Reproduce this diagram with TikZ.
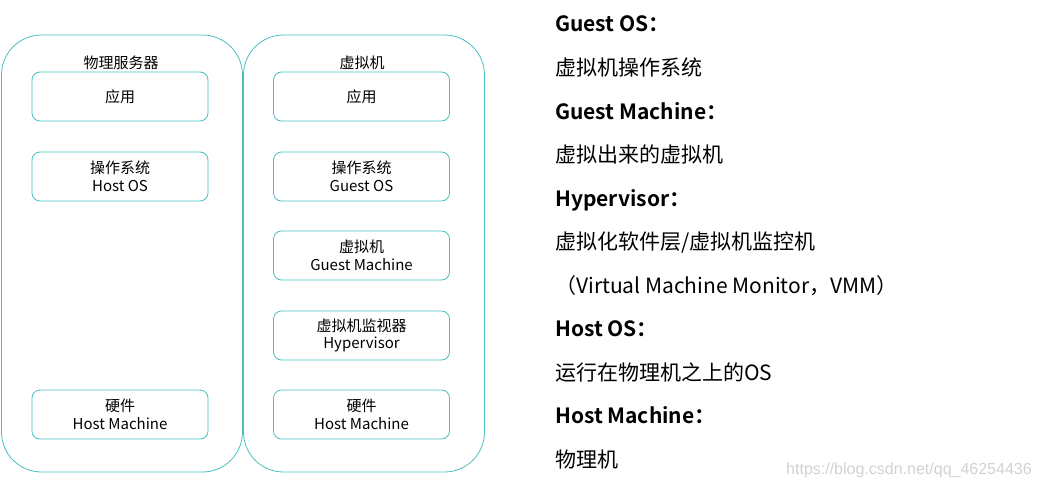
\documentclass[tikz,border=0pt]{standalone}
\usepackage{fontspec}
\setmainfont{Noto Sans CJK SC}[BoldFont={Noto Sans CJK SC Bold}]
\newfontfamily\markfont{Liberation Sans}
\usetikzlibrary{positioning}
\definecolor{lineteal}{RGB}{75,190,190}

\begin{document}
\begin{tikzpicture}[x=1pt,y=-1pt,
    outer/.style={draw=lineteal,line width=0.8pt,rounded corners=40pt,minimum width=241pt,minimum height=437pt,inner sep=0pt},
    layer/.style={draw=lineteal,line width=0.8pt,rounded corners=8pt,minimum width=176pt,minimum height=49pt,inner sep=0pt,align=center,font=\fontsize{15}{19}\selectfont},
    title/.style={font=\fontsize{15}{19}\selectfont},
    desc/.style={anchor=base west,inner sep=0pt,font=\fontsize{21}{25}\selectfont},
    term/.style={anchor=base west,inner sep=0pt,font=\fontsize{21}{25}\selectfont\bfseries}]
  \useasboundingbox (0,0) rectangle (1040,487);

  \node [outer] (physical) at (122,253.5) {};
  \node [outer] (virtual) at (364,253.5) {};
  \node [title] (physicaltitle) at (121,63) {物理服务器};
  \node [title] (virtualtitle) at (362,63) {虚拟机};

  \node [layer] (papp) at (120,96.5) {\raisebox{-1.5pt}{应用}};
  \node [layer] (pos) at (120,176.5) {\raisebox{-1.5pt}{操作系统}\\Host OS};
  \node [layer] (phw) at (120,414.5) {\raisebox{-1.5pt}{硬件}\\Host Machine};

  \node [layer] (vapp) at (361.5,96.5) {\raisebox{-1.5pt}{应用}};
  \node [layer] (vos) at (361.5,176.5) {\raisebox{-1.5pt}{操作系统}\\Guest OS};
  \node [layer] (vguest) at (361.5,255.5) {\raisebox{-1.5pt}{虚拟机}\\Guest Machine};
  \node [layer] (vmm) at (361.5,335.5) {\raisebox{-1.5pt}{虚拟机监视器}\\Hypervisor};
  \node [layer] (vhw) at (361.5,414.5) {\raisebox{-1.5pt}{硬件}\\Host Machine};

  \node [term] (guestos) at (555,32) {Guest OS：};
  \node [desc] (guestosdesc) at (555,75.5) {虚拟机操作系统};
  \node [term] (guestmachine) at (555,119) {Guest Machine：};
  \node [desc] (guestmachinedesc) at (555,162.5) {虚拟出来的虚拟机};
  \node [term] (hypervisor) at (555,206) {Hypervisor：};
  \node [desc] (hypervisordesc) at (555,249.5) {虚拟化软件层/虚拟机监控机};
  \node [desc] (hypervisorfull) at (555,293) {（Virtual Machine Monitor，VMM）};
  \node [term] (hostos) at (555,336.5) {Host OS：};
  \node [desc] (hostosdesc) at (555,380) {运行在物理机之上的OS};
  \node [term] (hostmachine) at (555,423.5) {Host Machine：};
  \node [desc] (hostmachinedesc) at (555,467) {物理机};

  \node [anchor=base west,inner sep=0pt,text=black!18,font=\markfont\fontsize{16}{18}\selectfont] (mark) at (786,474) {https://blog.csdn.net/qq\_46254436};
\end{tikzpicture}
\end{document}
